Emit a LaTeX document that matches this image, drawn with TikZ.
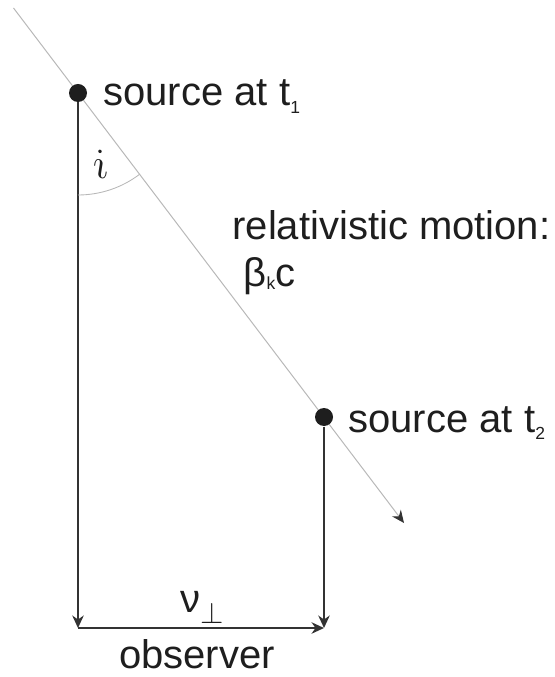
\documentclass[tikz,border=0pt]{standalone}
\usepackage{fontspec}
\setmainfont{Liberation Sans}
\usepackage{xcolor}
\definecolor{cLine}{HTML}{333333}
\definecolor{cPath}{HTML}{B8B8B8}
\definecolor{cText}{HTML}{1E1E1E}
\usepackage{tikz}
\usetikzlibrary{positioning,arrows.meta}
\newcommand{\lowsub}[2][3pt]{\raisebox{-#1}{\fontsize{7}{7}\selectfont #2}}
\tikzset{
  node-dot/.style={circle,fill=cText,inner sep=0pt,minimum size=7.2pt},
  node-label/.style={font=\fontsize{16}{19}\selectfont,text=cText,inner sep=0pt},
  arrow/.style={-{Stealth[length=5pt,width=4.6pt]},line width=0.7pt,draw=cLine},
  arrow-path/.style={-{Stealth[length=5pt,width=4.4pt,color=cLine]},line width=0.4pt,draw=cPath},
  angle-arc/.style={line width=0.35pt,draw=cPath},
}

\begin{document}
\begin{tikzpicture}[x=0.4pt,y=-0.4pt]
  \useasboundingbox (0,0) rectangle (554,677);
  \coordinate (a) at (13.5,8);
  \coordinate (b) at (404,523);
  \draw[arrow-path] (a) -- (b);
  \node[node-dot] (s1) at (78,93) {};
  \node[node-dot] (s2) at (324,417) {};
  \coordinate (o1) at (78,628);
  \coordinate (o2) at (324,628);
  \draw[arrow] (s1) -- (o1);
  \draw[arrow] (s2) -- (o2);
  \draw[arrow] (o1) -- (o2);
  \draw[angle-arc] (s1.center) ++(90:102) arc[start angle=90,end angle=52.8,radius=102];
  \node[node-label,anchor=base west] (l1)   at (103,106) {source at t\lowsub{1}};
  \node[node-label,anchor=base west] (l2)   at (348,432) {source at t\lowsub{2}};
  \node[node-label,anchor=base west] (mot)  at (232,240) {relativistic motion:};
  \node[node-label,anchor=base west] (beta) at (243,287) {β\lowsub[1.2pt]{k}c};
  \node[node-label,xslant=-0.22,transform shape] (inc) at (100,164) {$i$};
  \node[node-label,anchor=base west] (vel)  at (180,612) {ν\raisebox{-4.4pt}{\fontsize{12}{12}\selectfont$\perp$}};
  \node[node-label,anchor=base]      (obs)  at (197,668) {observer};
\end{tikzpicture}
\end{document}
